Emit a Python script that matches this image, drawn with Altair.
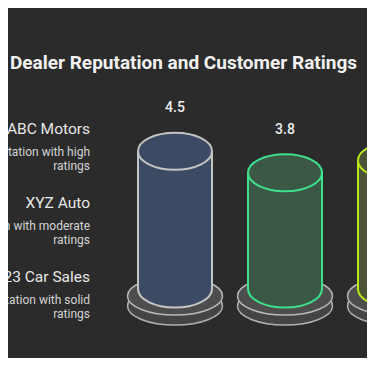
import altair as alt
import pandas as pd

dealers = ["ABC Motors", "XYZ Auto", "123 Car Sales"]
ratings = [4.5, 3.8, 4.2]
descriptions = [
    "Excellent reputation with high\nratings",
    "Good reputation with moderate\nratings",
    "Strong reputation with solid\nratings",
]
body_colors = ["#3d4a63", "#3b5847", "#4c5337"]
edge_colors = ["#c4c4c4", "#3ee08c", "#b8e81c"]

df = pd.DataFrame({
    "dealer": dealers,
    "rating": ratings,
    "desc": descriptions,
    "label": [f"{r:.1f}" for r in ratings],
})

K = 0.5523


def ellipse(ry):
    a = K * ry
    return (f"M-1,0C-1,{-a:.4f},{-K:.4f},{-ry},0,{-ry}"
            f"C{K:.4f},{-ry},1,{-a:.4f},1,0"
            f"C1,{a:.4f},{K:.4f},{ry},0,{ry}"
            f"C{-K:.4f},{ry},-1,{a:.4f},-1,0Z")


cyl_shape = ellipse(0.5)
base_shape = ellipse(0.4)

xs = alt.Scale(type="point", domain=dealers, range=[167, 387], padding=0)
ys = alt.Scale(domain=[0, 5], range=[281, 128])
X = alt.X("dealer:N", sort=dealers, scale=xs, axis=None)
Y = alt.Y("rating:Q", scale=ys, axis=None)
Y0 = alt.YDatum(0, type="quantitative", scale=ys, axis=None)
fill_s = alt.Scale(domain=dealers, range=body_colors)
stroke_s = alt.Scale(domain=dealers, range=edge_colors)
FILL = alt.Fill("dealer:N", scale=fill_s, legend=None)
STROKE = alt.Stroke("dealer:N", scale=stroke_s, legend=None)

c = alt.Chart(df)

base_low = c.mark_point(shape=base_shape, size=95 ** 2, filled=True, fill="#444444",
                        stroke="#b0b0b0", strokeWidth=1.5, opacity=1, yOffset=17
                        ).encode(x=X, y=Y0)
base_up = c.mark_point(shape=base_shape, size=95 ** 2, filled=True, fill="#4d4d4d",
                       stroke="#b8b8b8", strokeWidth=1.5, opacity=1, yOffset=7
                       ).encode(x=X, y=Y0)
bottom = c.mark_point(shape=cyl_shape, size=74 ** 2, filled=True, opacity=1, strokeWidth=2
                      ).encode(x=X, y=Y0, fill=FILL, stroke=STROKE)
body = c.mark_rule(strokeWidth=74, strokeCap="butt").encode(
    x=X, y=Y, y2=alt.Y2Datum(0),
    color=alt.Color("dealer:N", scale=fill_s, legend=None))
left = c.mark_rule(strokeWidth=2, xOffset=-37).encode(x=X, y=Y, y2=alt.Y2Datum(0), stroke=STROKE)
right = c.mark_rule(strokeWidth=2, xOffset=37).encode(x=X, y=Y, y2=alt.Y2Datum(0), stroke=STROKE)
top = c.mark_point(shape=cyl_shape, size=74 ** 2, filled=True, opacity=1, strokeWidth=2
                   ).encode(x=X, y=Y, fill=FILL, stroke=STROKE)
values = c.mark_text(dy=-43, fontSize=14, font="Roboto", fontWeight=500, color="#ededed"
                     ).encode(x=X, y=Y, text="label:N")

cyl = alt.layer(base_low, base_up, bottom, body, left, right, top, values)

YL = alt.Y("dealer:N", sort=dealers,
           scale=alt.Scale(type="point", domain=dealers, range=[121, 269], padding=0), axis=None)
names = c.mark_text(align="right", baseline="middle", fontSize=15.5, font="Roboto",
                    color="#e8e8e8").encode(x=alt.value(82), y=YL, text="dealer:N")
descs = c.mark_text(align="right", baseline="top", fontSize=12, font="Roboto", lineHeight=14,
                    lineBreak="\n", color="#d4d4d4", dy=18
                    ).encode(x=alt.value(82), y=YL, text="desc:N")
labels = alt.layer(names, descs)

chart = alt.layer(cyl, labels).resolve_scale(y="independent").properties(
    width=359, height=350,
    autosize=alt.AutoSizeParams(type="none"),
    padding=0,
    background="#2b2b2b",
    title=alt.TitleParams("Dealer Reputation and Customer Ratings", fontSize=19,
                          fontWeight="bold", font="Roboto", color="#f2f2f2",
                          anchor="middle", frame="group", offset=-74, baseline="middle", dx=-4),
).configure_view(stroke=None)

chart.save("out.html", embed_options={"renderer": "svg", "actions": False})
